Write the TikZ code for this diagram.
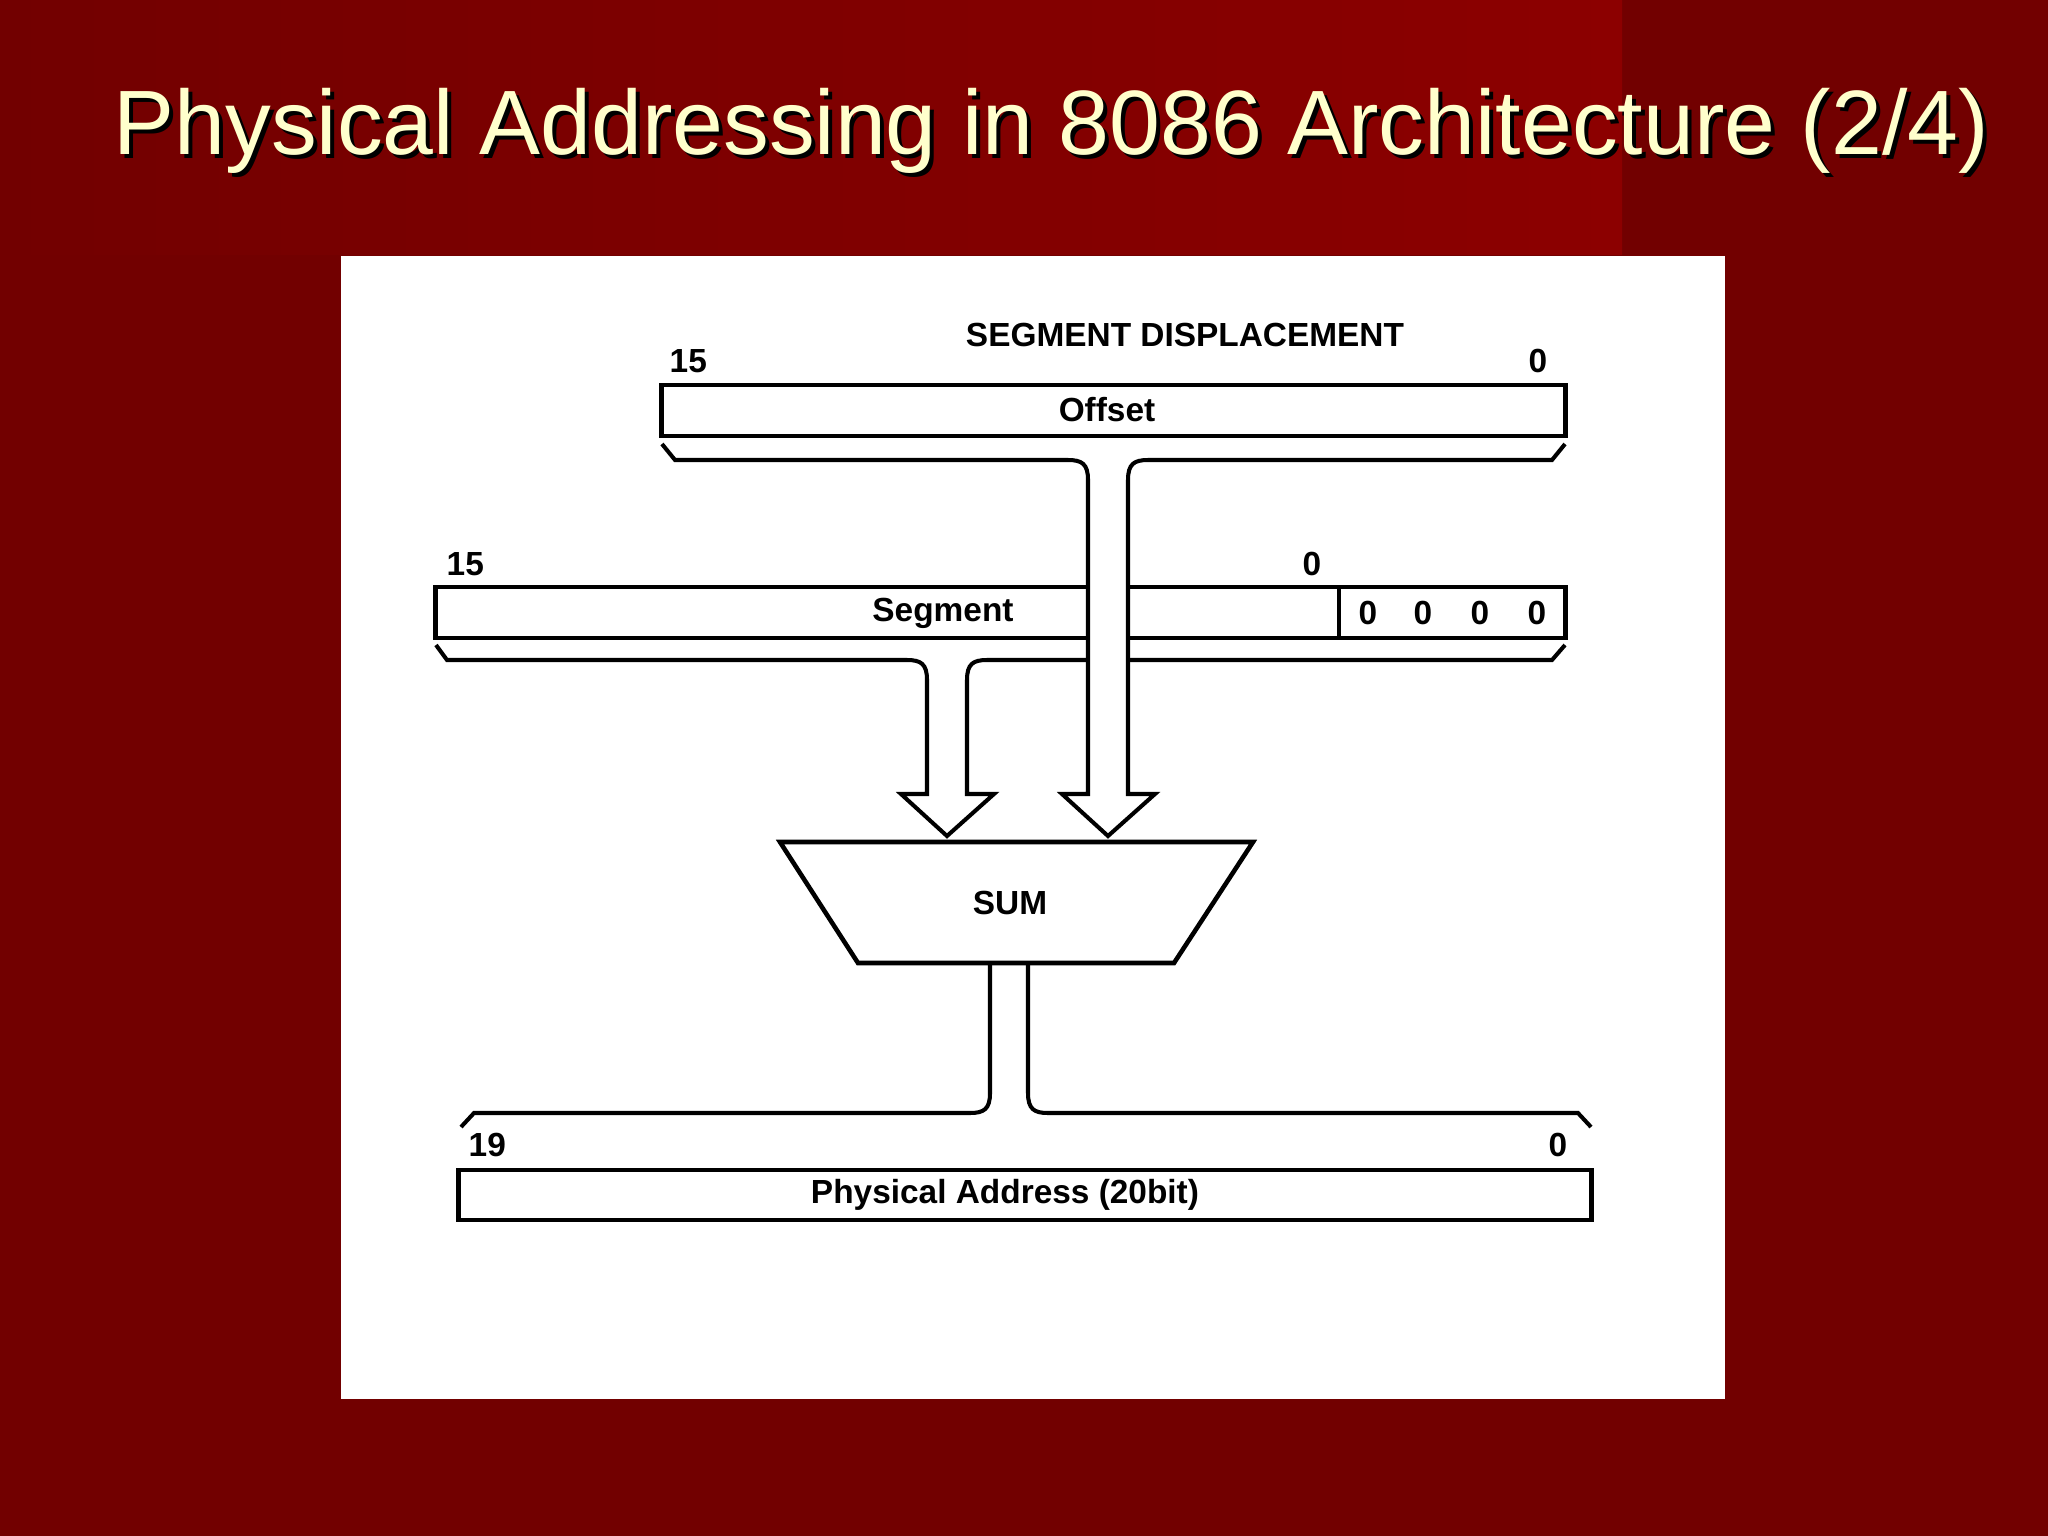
\documentclass[tikz,border=0pt]{standalone}
\usepackage{fontspec}
\setmainfont{Liberation Sans}

\definecolor{fondo}{RGB}{114,0,0}
\definecolor{fondoclaro}{RGB}{140,0,0}
\definecolor{titulo}{RGB}{255,255,204}

\tikzset{
	registro/.style={draw, line width=1.4pt, fill=white, inner sep=0pt},
	etiqueta/.style={font=\bfseries\fontsize{9.5}{11}\selectfont, inner sep=0pt},
	bus/.style={draw, line width=1.15pt, fill=white, line join=miter},
	encabezado/.style={anchor=base west, inner sep=0pt, font=\fontsize{26}{30}\selectfont}
}

\begin{document}
\begin{tikzpicture}[x=0.01cm, y=-0.01cm]

		\useasboundingbox (0,0) rectangle (2048,1536);

		% Fondo de la diapositiva
		\fill[fondo] (0,0) rectangle (2048,1536);
		\shade[left color=fondo, right color=fondoclaro] (0,0) rectangle (1622,254);

		% Titulo con sombra
		\node[encabezado, text=black] (sombra) at (117,158) {Physical Addressing in 8086 Architecture (2/4)};
		\node[encabezado, text=titulo] (titulo) at (113,154) {Physical Addressing in 8086 Architecture (2/4)};

		% Panel blanco
		\fill[white] (341,256) rectangle (1725,1399);

		% Registros
		\node[registro, minimum width=9.03cm, minimum height=0.51cm] (offset) at (1113.5,410.5) {};
		\node[registro, minimum width=11.29cm, minimum height=0.51cm] (segmento) at (1000.5,612.5) {};
		\draw[line width=1.4pt] (1339,587) -- (1339,638); % Division de los cuatro ceros

		% Bus del segmento
		\path[bus] (436,645) -- (447,660) -- (907,660) .. controls (921,660) and (927,664) .. (927,680)
			-- (927,794) -- (901,794) -- (947,836) -- (994,794) -- (967,794) -- (967,680)
			.. controls (967,664) and (973,660) .. (987,660) -- (1552,660) -- (1565,645);

		% Bus del desplazamiento (pasa por encima del segmento)
		\path[bus] (662,444) -- (675,460) -- (1068,460) .. controls (1082,460) and (1088,464) .. (1088,480)
			-- (1088,794) -- (1062,794) -- (1108,836) -- (1155,794) -- (1128,794) -- (1128,480)
			.. controls (1128,464) and (1134,460) .. (1148,460) -- (1552,460) -- (1565,444);

		% Sumador
		\draw[line width=1.3pt, line join=miter] (780,842) -- (1253,842) -- (1174,963) -- (858,963) -- cycle;
		\node[etiqueta] (suma) at (1010,903) {SUM};

		% Bus de salida
		\draw[line width=1.15pt, line join=miter]
			(461,1127) -- (474,1113) -- (970,1113) .. controls (984,1113) and (990,1109) .. (990,1093) -- (990,963)
			(1028,963) -- (1028,1093) .. controls (1028,1109) and (1034,1113) .. (1048,1113) -- (1578,1113) -- (1591,1127);

		% Direccion fisica
		\node[registro, minimum width=11.32cm, minimum height=0.50cm] (fisica) at (1025,1195) {};

		% Etiquetas
		\node[etiqueta] (desplaz) at (1185,335) {SEGMENT DISPLACEMENT};
		\node[etiqueta, anchor=west] (offalto) at (669,361) {15};
		\node[etiqueta] (offbajo) at (1538,361) {0};
		\node[etiqueta] (offtxt) at (1107,410) {Offset};

		\node[etiqueta, anchor=west] (segalto) at (446,564) {15};
		\node[etiqueta] (segbajo) at (1312,564) {0};
		\node[etiqueta] (segtxt) at (943,613) {Segment};
		\foreach \x [count=\i] in {1368,1423,1480,1537}
			\node[etiqueta] (cero\i) at (\x,613) {0};

		\node[etiqueta, anchor=west] (fisalto) at (468,1145) {19};
		\node[etiqueta] (fisbajo) at (1558,1145) {0};
		\node[etiqueta] (fistxt) at (1005,1195) {Physical Address (20bit)};

	\end{tikzpicture}
\end{document}
